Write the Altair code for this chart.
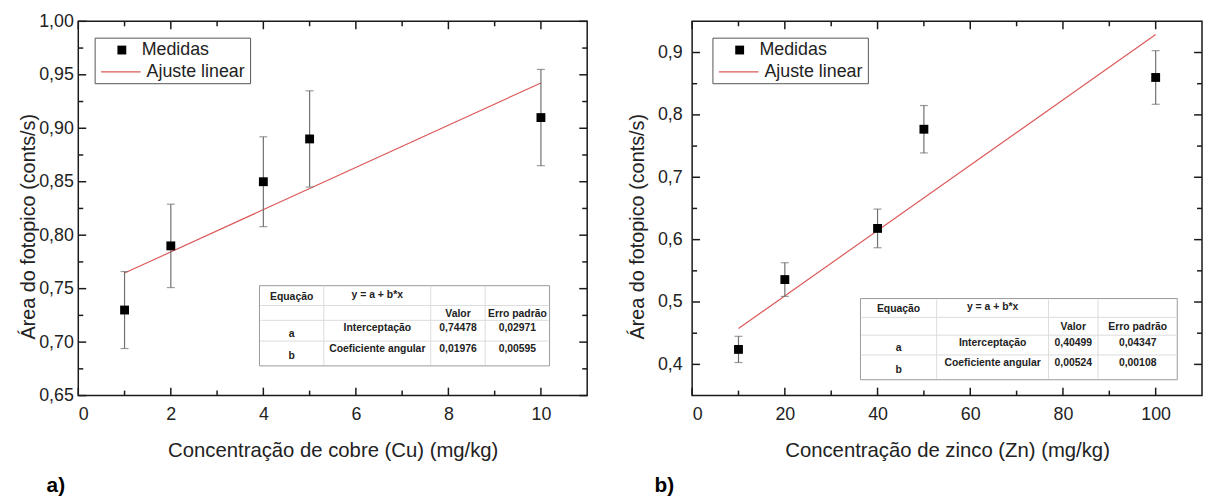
import altair as alt
import pandas as pd

FONT = "Liberation Sans"

# ---------------- data: panel a (cobre) ----------------
cu_x = [1, 2, 4, 5, 10]
cu_y = [0.730, 0.790, 0.850, 0.890, 0.910]
cu_lo = [0.694, 0.751, 0.808, 0.845, 0.865]
cu_hi = [0.766, 0.829, 0.892, 0.935, 0.955]
cu_fit_x = [1, 10]
cu_fit_y = [0.7646, 0.9424]
cu_xmajor = [0, 2, 4, 6, 8, 10]
cu_xminor = [1, 3, 5, 7, 9]
cu_ymajor = [0.65, 0.70, 0.75, 0.80, 0.85, 0.90, 0.95, 1.00]
cu_yminor = [0.675, 0.725, 0.775, 0.825, 0.875, 0.925, 0.975]
cu_valor = ["0,74478", "0,01976"]
cu_erro = ["0,02971", "0,00595"]

# ---------------- data: panel b (zinco) ----------------
zn_x = [10, 20, 40, 50, 100]
zn_y = [0.424, 0.536, 0.618, 0.777, 0.860]
zn_lo = [0.403, 0.509, 0.587, 0.739, 0.817]
zn_hi = [0.445, 0.563, 0.649, 0.815, 0.903]
zn_fit_x = [10, 100]
zn_fit_y = [0.4574, 0.9290]
zn_xmajor = [0, 20, 40, 60, 80, 100]
zn_xminor = [10, 30, 50, 70, 90]
zn_ymajor = [0.4, 0.5, 0.6, 0.7, 0.8, 0.9]
zn_yminor = [0.45, 0.55, 0.65, 0.75, 0.85]
zn_valor = ["0,40499", "0,00524"]
zn_erro = ["0,04347", "0,00108"]

# ---------------- shared text ----------------
legend_labels = ["Medidas", "Ajuste linear"]
table_header = ["Equação", "y = a + b*x", "Valor", "Erro padrão"]
table_rows = ["a", "b"]
table_params = ["Interceptação", "Coeficiente angular"]
y_title = "Área do fotopico (conts/s)"

ONE = pd.DataFrame({"k": [0]})
RED = "#dc5a5a"


def txt(s, x, y, size=10.5, bold=True, align="center", baseline="middle", color="#222"):
    return alt.Chart(ONE).mark_text(
        text=s, font=FONT, fontSize=size, fontWeight="bold" if bold else "normal",
        align=align, baseline=baseline, color=color
    ).encode(x=alt.value(x), y=alt.value(y))


def hline(x1, x2, y, color, w=1.0):
    return alt.Chart(ONE).mark_rule(color=color, strokeWidth=w).encode(
        x=alt.value(x1), x2=alt.value(x2), y=alt.value(y))


def vline(x, y1, y2, color, w=1.0):
    return alt.Chart(ONE).mark_rule(color=color, strokeWidth=w).encode(
        x=alt.value(x), y=alt.value(y1), y2=alt.value(y2))


def panel(xs, ys, lo, hi, fx, fy, xdom, ydom, xmaj, xmin, ymaj, ymin, yfmt,
          xtitle, valor, erro, W, H, lab_pad, title_pad, leg, tab, tag, tag_x):
    df = pd.DataFrame({"x": xs, "y": ys, "lo": lo, "hi": hi})
    xsc = alt.Scale(domain=xdom, nice=False, zero=False)
    ysc = alt.Scale(domain=ydom, nice=False, zero=False)
    common = dict(ticks=False, domain=False, grid=False, labelFont=FONT, titleFont=FONT,
                  labelFontSize=18, titleFontWeight="normal",
                  labelColor="#222", titleColor="#222")
    xax = alt.Axis(values=xmaj, title=xtitle, labelPadding=10, titlePadding=18,
                   titleFontSize=20.5, format="d", **common)
    yax = alt.Axis(values=ymaj, title=y_title, format=yfmt, titleFontSize=20,
                   labelExpr="replace(datum.label, '.', ',')", titleY=H / 2 + 18,
                   labelPadding=lab_pad, titlePadding=title_pad, **common)
    X = lambda f: alt.X(f, scale=xsc, axis=xax)
    Y = lambda f: alt.Y(f, scale=ysc, axis=yax)

    layers = []
    # inward ticks
    for vals, ln in ((xmaj, 8), (xmin, 5)):
        d = alt.Chart(pd.DataFrame({"v": vals}))
        layers.append(d.mark_rule(color="#1a1a1a", strokeWidth=1.5).encode(
            x=X("v:Q"), y=alt.value(H), y2=alt.value(H - ln)))
        layers.append(d.mark_rule(color="#1a1a1a", strokeWidth=1.5).encode(
            x=X("v:Q"), y=alt.value(0), y2=alt.value(ln)))
    for vals, ln in ((ymaj, 8), (ymin, 5)):
        d = alt.Chart(pd.DataFrame({"v": vals}))
        layers.append(d.mark_rule(color="#1a1a1a", strokeWidth=1.5).encode(
            y=Y("v:Q"), x=alt.value(0), x2=alt.value(ln)))
        layers.append(d.mark_rule(color="#1a1a1a", strokeWidth=1.5).encode(
            y=Y("v:Q"), x=alt.value(W), x2=alt.value(W - ln)))

    # fit line
    fit = pd.DataFrame({"x": fx, "y": fy})
    layers.append(alt.Chart(fit).mark_line(color=RED, strokeWidth=1.2).encode(
        x=X("x:Q"), y=Y("y:Q")))

    # error bars
    base = alt.Chart(df)
    layers.append(base.mark_rule(color="#707070", strokeWidth=1.2).encode(
        x=X("x:Q"), y=Y("lo:Q"), y2="hi:Q"))
    layers.append(base.mark_tick(color="#707070", orient="horizontal", size=8, thickness=1.2).encode(
        x=X("x:Q"), y=Y("lo:Q")))
    layers.append(base.mark_tick(color="#707070", orient="horizontal", size=8, thickness=1.2).encode(
        x=X("x:Q"), y=Y("hi:Q")))
    # points
    layers.append(base.mark_square(color="black", size=80, opacity=1).encode(
        x=X("x:Q"), y=Y("y:Q")))

    # legend box
    lx, ly = leg
    layers.append(alt.Chart(ONE).mark_rect(fill="white", stroke="#555", strokeWidth=1).encode(
        x=alt.value(lx), x2=alt.value(lx + 157), y=alt.value(ly), y2=alt.value(ly + 46)))
    layers.append(alt.Chart(ONE).mark_square(color="black", size=80, opacity=1).encode(
        x=alt.value(lx + 27), y=alt.value(ly + 12)))
    layers.append(txt(legend_labels[0], lx + 47, ly + 12, size=18, bold=False, align="left"))
    layers.append(hline(lx + 6, lx + 46, ly + 34, RED, 1.2))
    layers.append(txt(legend_labels[1], lx + 52, ly + 34, size=18, bold=False, align="left"))

    # table
    tx0, tx1, tx2, tx3, tx4, ty0, ty1, ty2, ty3, ty4 = tab
    layers.append(alt.Chart(ONE).mark_rect(fill="white", stroke="#9a9a9a", strokeWidth=1).encode(
        x=alt.value(tx0), x2=alt.value(tx4), y=alt.value(ty0), y2=alt.value(ty4)))
    for yy in (ty1, ty2, ty3):
        layers.append(hline(tx0 + 1, tx4 - 1, yy, "#dcdcdc"))
    for xx in (tx1, tx2, tx3):
        layers.append(vline(xx, ty0 + 1, ty4 - 1, "#dcdcdc"))
    c0 = (tx0 + tx1) / 2
    c1 = (tx1 + tx2) / 2
    c2 = (tx2 + tx3) / 2
    c3 = (tx3 + tx4) / 2
    layers.append(txt(table_header[0], c0, (ty0 + ty1) / 2 + 1))
    layers.append(txt(table_header[1], c1, (ty0 + ty1) / 2 - 1))
    layers.append(txt(table_header[2], c2, (ty1 + ty2) / 2 + 1))
    layers.append(txt(table_header[3], c3, (ty1 + ty2) / 2 + 1))
    rows = ((ty2, ty3), (ty3, ty4))
    for i, (r0, r1) in enumerate(rows):
        mid = (r0 + r1) / 2
        top = r0 + 8
        layers.append(txt(table_rows[i], c0, mid + 3))
        layers.append(txt(table_params[i], c1, top))
        layers.append(txt(valor[i], c2, top))
        layers.append(txt(erro[i], c3, top))

    # panel tag
    layers.append(txt(tag, tag_x, H + 97, size=21, bold=True, align="left",
                      baseline="alphabetic", color="black"))

    return alt.layer(*layers).properties(width=W, height=H)


left = panel(cu_x, cu_y, cu_lo, cu_hi, cu_fit_x, cu_fit_y, [0, 11], [0.65, 1.0],
             cu_xmajor, cu_xminor, cu_ymajor, cu_yminor, ".2f",
             "Concentração de cobre (Cu) (mg/kg)", cu_valor, cu_erro,
             514, 378, 5, 0, (17, 17),
             (183, 248, 356, 411, 476, 267, 287, 302, 323, 348), "a)", -32)

right = panel(zn_x, zn_y, zn_lo, zn_hi, zn_fit_x, zn_fit_y, [0, 110], [0.35, 0.95],
              zn_xmajor, zn_xminor, zn_ymajor, zn_yminor, ".1f",
              "Concentração de zinco (Zn) (mg/kg)", zn_valor, zn_erro,
              515, 378, 10, 10, (21, 17),
              (170, 247, 360, 410, 490, 280, 299, 317, 337, 362), "b)", -38)

chart = alt.hconcat(left, right, spacing=38).properties(
    padding={"left": 10, "top": 1, "right": 0, "bottom": 0},
    background="white"
).configure_view(
    stroke="#1a1a1a", strokeWidth=1.5
)

chart.save("out.html", embed_options={"renderer": "svg", "actions": False})
